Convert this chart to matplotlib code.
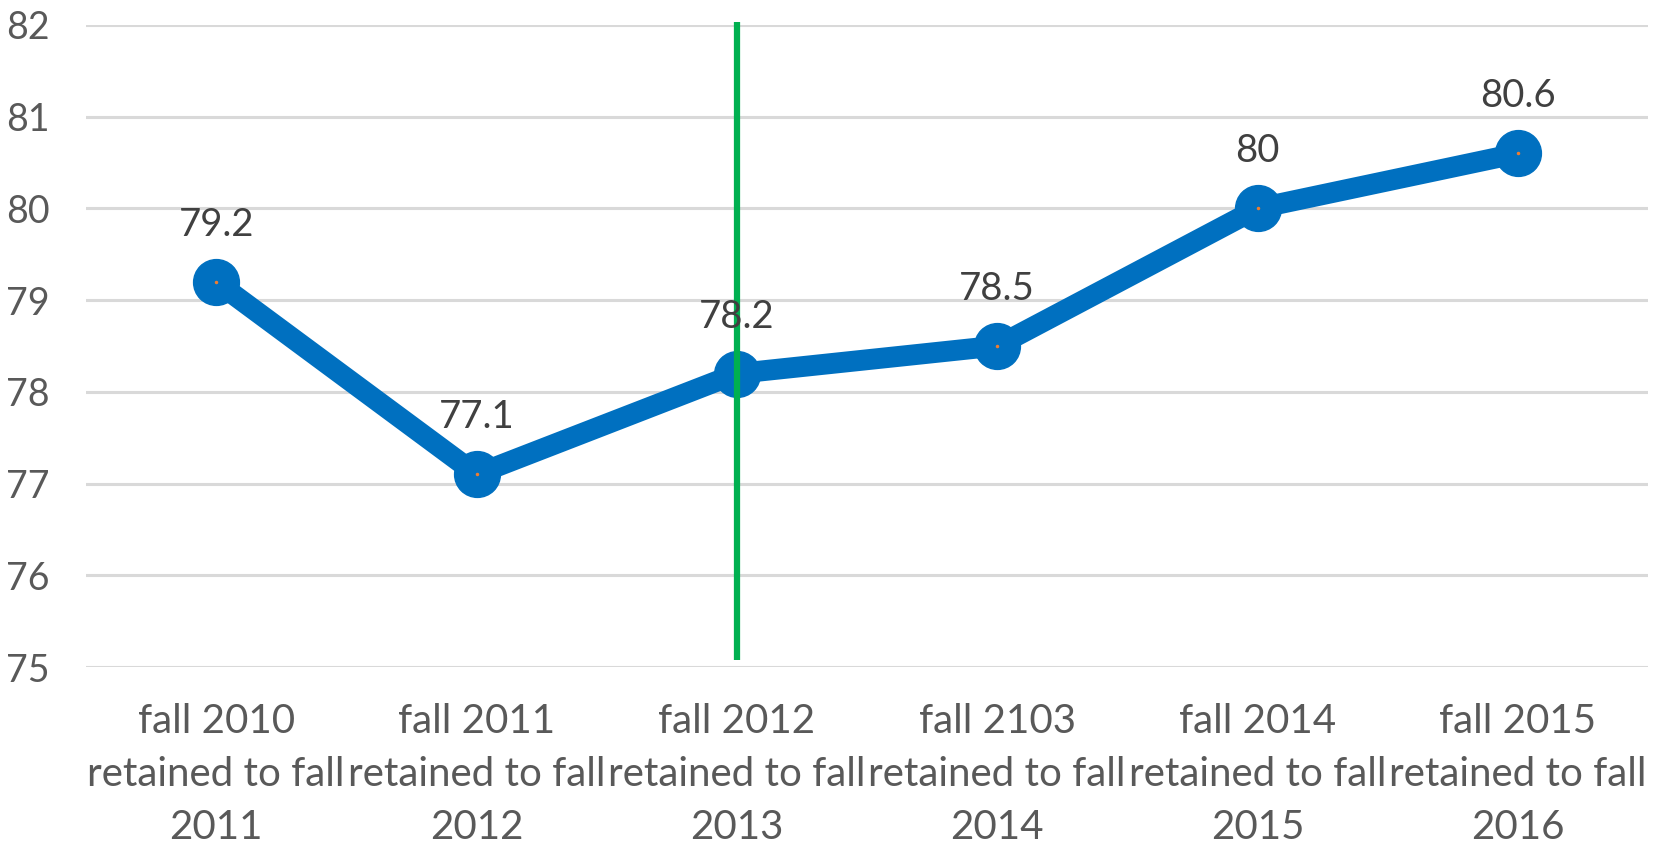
import matplotlib
matplotlib.use("Agg")
import matplotlib.pyplot as plt

categories = [
    "fall 2010\nretained to fall\n2011",
    "fall 2011\nretained to fall\n2012",
    "fall 2012\nretained to fall\n2013",
    "fall 2103\nretained to fall\n2014",
    "fall 2014\nretained to fall\n2015",
    "fall 2015\nretained to fall\n2016",
]
values = [79.2, 77.1, 78.2, 78.5, 80.0, 80.6]
value_labels = ["79.2", "77.1", "78.2", "78.5", "80", "80.6"]
yticks = [75, 76, 77, 78, 79, 80, 81, 82]
marker_index = 2  # vertical green line at "fall 2012"

plt.rcParams['font.family'] = ['Lato', 'DejaVu Sans']

fig = plt.figure(figsize=(16.65, 8.58), dpi=100)
ax = fig.add_axes([0.0517, 0.2226, 0.9381, 0.7483])

x = list(range(len(values)))
for y in yticks:
    ax.axhline(y, color="#D9D9D9", lw=2.2, zorder=1)

ax.plot(x, values, color="#0070C0", lw=15, marker="o", markersize=33,
        markerfacecolor="#0070C0", markeredgecolor="#0070C0",
        solid_capstyle="round", zorder=3)
ax.plot(x, values, ls="none", marker="o", markersize=1.5, color="#ED7D31", zorder=4)

ax.plot([marker_index, marker_index], [75.08, 82.03], color="#00B050", lw=4.5,
        solid_capstyle="butt", clip_on=False, zorder=5)

for xi, v, lab in zip(x, values, value_labels):
    ax.annotate(lab, (xi, v), xytext=(0, 57), textcoords="offset pixels",
                ha="center", va="center", fontsize=27.5, color="#404040", zorder=6)

ax.set_xlim(-0.5, len(values) - 0.5)
ax.set_ylim(75, 82)
ax.set_yticks(yticks)
ax.set_yticklabels([str(t) for t in yticks])
ax.set_xticks(x)
ax.set_xticklabels(categories, linespacing=1.53)
ax.tick_params(axis="y", length=0, labelsize=27, labelcolor="#595959", pad=26)
ax.tick_params(axis="x", length=0, labelsize=29, labelcolor="#595959", pad=26)
for s in ax.spines.values():
    s.set_visible(False)

fig.savefig("out.png", dpi=100)
